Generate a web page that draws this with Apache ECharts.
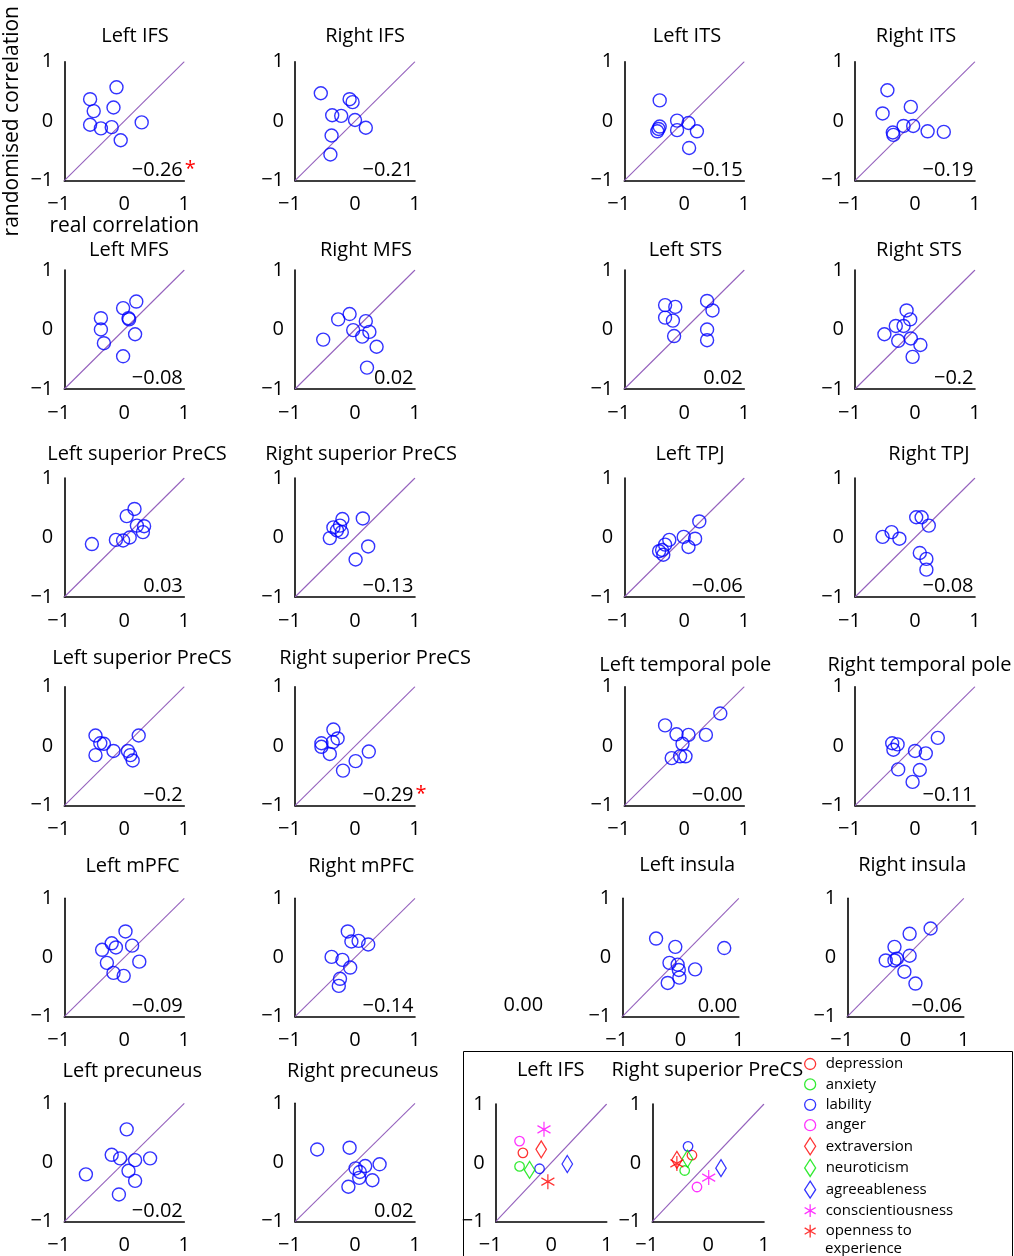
<!DOCTYPE html>
<html><head><meta charset="utf-8">
<script src="https://cdn.jsdelivr.net/npm/echarts@6/dist/echarts.min.js"></script>
<style>html,body{margin:0;padding:0;background:#fff}#c{width:1014px;height:1256px}</style>
</head><body><div id="c"></div>
<script>
// ---------------- DATA ----------------
const traits = ['depression','anxiety','lability','anger','extraversion','neuroticism','agreeableness','conscientiousness','openness to experience'];
// [real correlation, randomised correlation]; Left IFS and Right superior PreCS (2nd) in trait order
const leftIFS = [[-0.51,0.17],[-0.57,-0.06],[-0.21,-0.10],[-0.57,0.37],[-0.18,0.23],[-0.39,-0.12],[0.29,-0.02],[-0.13,0.57],[-0.06,-0.32]];
const rightIFS = [[-0.57,0.47],[-0.09,0.37],[-0.04,0.32],[-0.38,0.10],[-0.23,0.09],[0.0,0.02],[0.18,-0.11],[-0.39,-0.24],[-0.41,-0.56]];
const leftITS = [[-0.41,0.35],[-0.12,0.01],[0.07,-0.03],[-0.41,-0.09],[-0.45,-0.17],[-0.12,-0.15],[0.21,-0.17],[0.08,-0.45],[-0.43,-0.13]];
const rightITS = [[-0.46,0.52],[-0.54,0.13],[-0.07,0.24],[-0.19,-0.08],[-0.03,-0.08],[-0.37,-0.19],[-0.36,-0.23],[0.21,-0.17],[0.48,-0.18]];
const leftMFS = [[-0.39,0.19],[-0.39,0.0],[-0.34,-0.23],[-0.02,0.36],[0.2,0.47],[0.08,0.17],[0.18,-0.08],[-0.02,-0.45],[0.07,0.19]];
const rightMFS = [[-0.53,-0.17],[-0.28,0.17],[-0.09,0.26],[-0.03,-0.01],[0.18,0.14],[0.24,-0.04],[0.12,-0.12],[0.36,-0.29],[0.2,-0.64]];
const leftSTS = [[-0.32,0.41],[-0.15,0.38],[-0.32,0.2],[-0.19,0.15],[-0.17,-0.11],[0.38,0.48],[0.47,0.32],[0.38,0.0],[0.38,-0.18]];
const rightSTS = [[-0.14,0.32],[-0.08,0.17],[-0.32,0.06],[-0.19,0.06],[-0.51,-0.08],[-0.28,-0.19],[-0.07,-0.15],[0.09,-0.26],[-0.04,-0.46]];
const leftSupPreCS1 = [[-0.54,-0.11],[-0.14,-0.04],[-0.02,-0.05],[0.09,0.0],[0.04,0.36],[0.17,0.48],[0.21,0.2],[0.33,0.19],[0.31,0.09]];
const rightSupPreCS1 = [[-0.21,0.31],[0.13,0.32],[-0.36,0.17],[-0.22,0.09],[-0.42,-0.01],[0.22,-0.15],[0.01,-0.37],[-0.3,0.12],[-0.25,0.2]];
const leftTPJ = [[0.25,0.27],[-0.01,0.01],[0.18,-0.02],[0.07,-0.16],[-0.25,-0.04],[-0.32,-0.12],[-0.42,-0.23],[-0.35,-0.29],[-0.37,-0.21]];
const rightTPJ = [[-0.54,0.01],[-0.39,0.09],[-0.26,-0.02],[0.02,0.34],[0.11,0.34],[0.23,0.2],[0.08,-0.26],[0.19,-0.36],[0.19,-0.54]];
const leftSupPreCS2 = [[-0.48,0.18],[-0.34,0.04],[-0.48,-0.15],[-0.18,-0.08],[0.06,-0.08],[0.14,-0.24],[0.24,0.18],[-0.4,0.05],[0.1,-0.15]];
const rightSupPreCS2 = [[-0.29,0.13],[-0.42,-0.13],[-0.36,0.28],[-0.20,-0.41],[-0.56,0.05],[-0.37,0.07],[0.23,-0.09],[0.01,-0.25],[-0.56,-0.01]];
const leftTempPole = [[-0.32,0.35],[0.6,0.55],[-0.13,0.2],[0.07,0.19],[0.36,0.19],[-0.03,0.04],[-0.21,-0.2],[-0.07,-0.17],[0.02,-0.17]];
const rightTempPole = [[-0.38,0.05],[-0.29,0.03],[-0.36,-0.06],[0.0,-0.08],[0.18,-0.12],[0.38,0.14],[-0.28,-0.39],[0.08,-0.4],[-0.04,-0.6]];
const leftMPFC = [[0.02,0.44],[-0.21,0.24],[-0.14,0.17],[-0.37,0.13],[0.13,0.2],[-0.29,-0.09],[0.25,-0.07],[-0.18,-0.26],[-0.01,-0.31]];
const rightMPFC = [[-0.12,0.44],[-0.06,0.27],[0.06,0.28],[0.22,0.22],[-0.39,0.01],[-0.21,-0.04],[-0.08,-0.17],[-0.25,-0.36],[-0.27,-0.48]];
const leftInsula = [[-0.42,0.32],[-0.09,0.18],[0.75,0.16],[-0.19,-0.09],[-0.05,-0.12],[-0.03,-0.21],[0.25,-0.2],[-0.02,-0.34],[-0.22,-0.43]];
const rightInsula = [[0.43,0.49],[0.07,0.4],[-0.19,0.18],[0.07,0.03],[-0.34,-0.05],[-0.19,-0.05],[-0.02,-0.24],[0.17,-0.44],[-0.15,-0.02]];
const leftPrecuneus = [[0.04,0.56],[-0.21,0.13],[-0.07,0.07],[0.18,0.04],[0.43,0.07],[0.07,-0.14],[0.18,-0.31],[-0.64,-0.2],[-0.09,-0.54]];
const rightPrecuneus = [[-0.63,0.22],[-0.09,0.25],[0.01,-0.1],[0.17,-0.06],[0.41,-0.03],[0.07,-0.26],[0.29,-0.3],[-0.11,-0.41],[0.08,-0.16]];

const panelTitles = ['Left IFS','Right IFS','Left ITS','Right ITS',
  'Left MFS','Right MFS','Left STS','Right STS',
  'Left superior PreCS','Right superior PreCS','Left TPJ','Right TPJ',
  'Left superior PreCS','Right superior PreCS','Left temporal pole','Right temporal pole',
  'Left mPFC','Right mPFC','Left insula','Right insula',
  'Left precuneus','Right precuneus'];
const corrLabels = ['−0.26','−0.21','−0.15','−0.19',
  '−0.08','0.02','0.02','−0.2',
  '0.03','−0.13','−0.06','−0.08',
  '−0.2','−0.29','−0.00','−0.11',
  '−0.09','−0.14','0.00','−0.06',
  '−0.02','0.02'];
const significant = [true,false,false,false, false,false,false,false, false,false,false,false,
  false,true,false,false, false,false,false,false, false,false];
const extraLabel = '0.00';
const tickValues = [-1, 0, 1];
const legendTitles = ['Left IFS','Right superior PreCS'];
const legendLabels = ['depression','anxiety','lability','anger','extraversion','neuroticism','agreeableness','conscientiousness','openness to'];
const legendLabelCont = 'experience';

// ---------------- LAYOUT / STYLE ----------------
const panelData = [leftIFS,rightIFS,leftITS,rightITS,leftMFS,rightMFS,leftSTS,rightSTS,
  leftSupPreCS1,rightSupPreCS1,leftTPJ,rightTPJ,leftSupPreCS2,rightSupPreCS2,leftTempPole,rightTempPole,
  leftMPFC,rightMPFC,leftInsula,rightInsula,leftPrecuneus,rightPrecuneus];
const FF = '"Open Sans", "Noto Sans", sans-serif';
const FS = 20;
const TXT = '#000';
const colX = [64.3, 295, 624.3, 855];
const rowY = [61.7, 270, 478, 686.7, 898.3, 1103.3];
const titlePos = [[135,36],[365,36],[687,36],[916,36],
  [129,250.5],[366,250.5],[685.5,250],[919,250],
  [137,454.5],[361,454.5],[690,454.5],[929,454.5],
  [142,658.3],[375,658.3],[685.3,665.7],[919.5,665.7],
  [132.5,866.7],[361.3,866.7],[687.2,865],[912.2,865],
  [132.3,1071.7],[362.8,1071.7]];
const grids = [];
for (let i = 0; i < 22; i++) {
  const r = Math.floor(i / 4), c = i % 4;
  let g = {left: colX[c], top: rowY[r], width: 120, height: 119};
  if (r === 4 && c === 2) g = {left: 622.3, top: rowY[r], width: 116.5, height: 118.4};
  if (r === 4 && c === 3) g = {left: 847.3, top: rowY[r], width: 116.5, height: 118.4};
  if (r === 4 && c < 2) g.height = 118.4;
  if (r === 5) g.height = 118.4;
  grids.push(g);
}
// legend panels
grids.push({left: 495.7, top: 1104, width: 111, height: 117.7});
grids.push({left: 652.3, top: 1104, width: 111.7, height: 117.7});

const fmt = v => (v < 0 ? '−' + Math.abs(v) : String(v));
const fmtX = v => (v < 0 ? '{n|−' + Math.abs(v) + '}' : String(v));
const xAxes = [], yAxes = [], series = [], graphics = [];
grids.forEach((g, i) => {
  const xa = {gridIndex: i, type: 'value', min: tickValues[0], max: tickValues[2], interval: 1,
    axisLine: {show: true, onZero: false, lineStyle: {color: '#000', width: 1.6}},
    axisTick: {show: false}, splitLine: {show: false},
    axisLabel: {margin: 14, fontSize: FS, color: TXT, fontFamily: FF, formatter: fmtX,
      rich: {n: {fontSize: FS, color: TXT, fontFamily: FF, padding: [0, 11, 0, 0]}}}};
  const ya = {gridIndex: i, type: 'value', min: tickValues[0], max: tickValues[2], interval: 1,
    axisLine: {show: true, onZero: false, lineStyle: {color: '#000', width: 1.6}},
    axisTick: {show: false}, splitLine: {show: false},
    axisLabel: {margin: 11, fontSize: FS, color: TXT, fontFamily: FF, formatter: fmt}};
  if (i === 0) {
    xa.name = 'real correlation'; xa.nameLocation = 'middle'; xa.nameGap = 34;
    xa.nameTextStyle = {fontSize: 21, color: TXT, fontFamily: FF};
    ya.name = 'randomised correlation'; ya.nameLocation = 'middle'; ya.nameGap = 42; ya.nameRotate = 90;
    ya.nameTextStyle = {fontSize: 21, color: TXT, fontFamily: FF};
  }
  xAxes.push(xa); yAxes.push(ya);
  series.push({type: 'line', xAxisIndex: i, yAxisIndex: i, data: [[-1, -1], [1, 1]], symbol: 'none',
    silent: true, z: 1, lineStyle: {color: '#9562bd', width: 1.1}});
});

panelData.forEach((d, i) => {
  series.push({type: 'scatter', xAxisIndex: i, yAxisIndex: i, data: d, symbol: 'circle', symbolSize: 13,
    silent: true, z: 3, itemStyle: {color: 'transparent', borderColor: '#0000ff', borderWidth: 1.4}});
  const g = grids[i];
  const [tx, ty] = titlePos[i];
  graphics.push({type: 'text', x: tx, y: ty, style: {text: panelTitles[i], font: FS + 'px ' + FF,
    fill: TXT, align: 'center', verticalAlign: 'middle'}});
  const rx = g.left + g.width - 1.5, ry = g.top + g.height - 10.7;
  graphics.push({type: 'text', x: rx, y: ry, style: {text: corrLabels[i], font: FS + 'px ' + FF,
    fill: TXT, align: 'right', verticalAlign: 'middle'}});
  if (significant[i]) {
    graphics.push({type: 'text', x: rx + 2, y: ry - 1, style: {text: '*', font: FS + 'px ' + FF,
      fill: '#ff0000', align: 'left', verticalAlign: 'middle'}});
  }
});
graphics.push({type: 'text', x: 523.3, y: 1005.7, style: {text: extraLabel, font: FS + 'px ' + FF,
  fill: TXT, align: 'center', verticalAlign: 'middle'}});

// legend panels
const ASTER = 'path://M10,0L10,20M1.34,5L18.66,15M1.34,15L18.66,5';
const traitStyle = [
  {symbol: 'circle', size: 9.5, color: '#ff0000'},
  {symbol: 'circle', size: 9.5, color: '#00e600'},
  {symbol: 'circle', size: 9.5, color: '#0000ff'},
  {symbol: 'circle', size: 9.5, color: '#ff00ff'},
  {symbol: 'diamond', size: [10.5, 17], color: '#ff0000'},
  {symbol: 'diamond', size: [10.5, 17], color: '#00e600'},
  {symbol: 'diamond', size: [10.5, 17], color: '#0000ff'},
  {symbol: ASTER, size: [13, 15], color: '#ff00ff'},
  {symbol: ASTER, size: [13, 15], color: '#ff0000'}];
[[leftIFS, 22], [rightSupPreCS2, 23]].forEach(([d, gi]) => {
  traits.forEach((t, k) => {
    const st = traitStyle[k];
    series.push({type: 'scatter', name: t, xAxisIndex: gi, yAxisIndex: gi, data: [d[k]],
      symbol: st.symbol, symbolSize: st.size, silent: true, z: 3,
      itemStyle: {color: 'transparent', borderColor: st.color, borderWidth: 1.3}});
  });
});
graphics.push({type: 'text', x: 550.7, y: 1070, style: {text: legendTitles[0], font: FS + 'px ' + FF,
  fill: TXT, align: 'center', verticalAlign: 'middle'}});
graphics.push({type: 'text', x: 707.3, y: 1070, style: {text: legendTitles[1], font: FS + 'px ' + FF,
  fill: TXT, align: 'center', verticalAlign: 'middle'}});
graphics.push({type: 'rect', shape: {x: 463.5, y: 1051.5, width: 549, height: 220},
  style: {fill: 'none', stroke: '#000', lineWidth: 1}, z: 0});
graphics.push({type: 'text', x: 825, y: 1249, style: {text: legendLabelCont, font: '15px ' + FF,
  fill: TXT, align: 'left', verticalAlign: 'middle'}});

const legendData = traits.map((t, k) => {
  const st = traitStyle[k];
  return {name: t, icon: st.symbol,
    itemStyle: {color: 'transparent', borderColor: st.color, borderWidth: 1.3}};
});

const chart = echarts.init(document.getElementById('c'), null, {renderer: 'canvas'});
chart.setOption({
  animation: false,
  backgroundColor: '#fff',
  grid: grids,
  xAxis: xAxes,
  yAxis: yAxes,
  series: series,
  graphic: graphics,
  legend: {orient: 'vertical', left: 804, top: 1055.5, height: 400, padding: 0,
    itemWidth: 11, itemHeight: 17, itemGap: 3.4,
    selectedMode: false, data: legendData,
    formatter: n => legendLabels[traits.indexOf(n)],
    textStyle: {fontSize: 15, color: TXT, fontFamily: FF, padding: [0, 0, 0, 5], lineHeight: 17}}
});
</script></body></html>
